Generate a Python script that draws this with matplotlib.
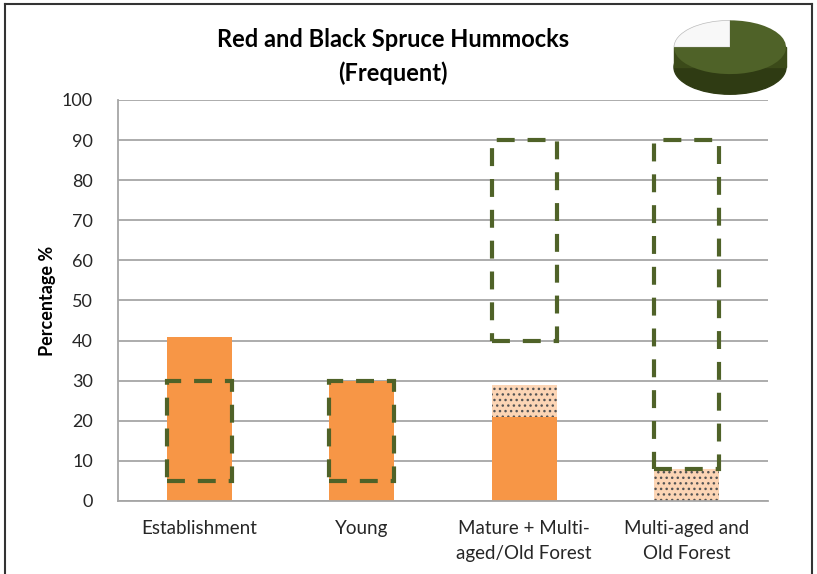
import numpy as np
import matplotlib.pyplot as plt
from matplotlib.patches import Wedge, Rectangle, Ellipse
from matplotlib.lines import Line2D

plt.rcParams['font.family'] = ['Lato', 'DejaVu Sans']
plt.rcParams['hatch.linewidth'] = 1.0

categories = ['Establishment', 'Young', 'Mature + Multi-\naged/Old Forest', 'Multi-aged and\nOld Forest']
solid = [41, 30, 21, 0]          # orange part
dotted = [0, 0, 8, 8]            # dotted part stacked on top
range_low = [5, 5, 40, 8]        # dashed boxes
range_high = [30, 30, 90, 90]
pie_vals = [75, 25]              # green, white

orange = '#F79646'
peach = '#FCD5B5'
green = '#4F6228'

fig = plt.figure(figsize=(8.17, 5.74), dpi=100)
ax = fig.add_axes([0.1444, 0.1272, 0.7956, 0.6986])

x = np.arange(len(categories))
w = 0.4
ax.bar(x, solid, w, color=orange, zorder=2)
ax.bar(x, dotted, w, bottom=solid, color=peach, hatch='...', edgecolor='#555555', lw=0, zorder=2)
for xi, lo, hi in zip(x, range_low, range_high):
    ax.add_patch(Rectangle((xi - w / 2, lo), w, hi - lo, fill=False, ec=green, lw=3,
                           ls=(0, (4.3, 3.1)), zorder=3))

ax.set_xlim(-0.5, len(categories) - 0.5)
ax.set_ylim(0, 100)
ax.set_yticks(range(0, 101, 10))
ax.yaxis.grid(True, color='#A6A6A6', lw=1.3)
ax.set_axisbelow(True)
for s in ['top', 'right']:
    ax.spines[s].set_visible(False)
for s in ['left', 'bottom']:
    ax.spines[s].set_color('#A6A6A6')
    ax.spines[s].set_linewidth(1.3)
ax.tick_params(axis='y', length=0, labelsize=13, colors='#262626', pad=18)
ax.tick_params(axis='x', length=0, labelsize=13.5, colors='#262626', pad=14)
ax.set_xticks(x)
ax.set_xticklabels(categories, linespacing=1.55)
ax.set_ylabel('Percentage %', fontsize=13, fontweight='bold', labelpad=4)

fig.text(0.481, 0.902, 'Red and Black Spruce Hummocks\n(Frequent)', ha='center', va='center',
         fontsize=17, fontweight='bold', linespacing=1.55)

# small 3D-looking pie in the corner (y squashed so circles look like tilted ellipses)
pax = fig.add_axes([665 / 817, 1 - 100 / 574, 130 / 817, 80 / 574])
pax.set_xlim(-65, 65)
pax.set_ylim(-110, 56.7)   # 0.48 px per unit in y -> r=56 gives ry~27px... squashed ellipse
pax.axis('off')
r = 56
depth = 42
pax.add_patch(Ellipse((0, -depth), 2 * r, 2 * r, color='#2F3B13'))
pax.add_patch(Rectangle((-r, -depth), 2 * r, depth, color='#3B4A19'))
frac = pie_vals[1] / sum(pie_vals) * 360
pax.add_patch(Wedge((0, 0), r, 90, 90 + frac, fc='#F8F8F8', ec='#BBBBBB', lw=0.5))
pax.add_patch(Wedge((0, 0), r, 90 + frac, 90 + 360, fc=green, ec='none'))

# frame around the chart (no bottom edge)
for xs, ys in [([0.006, 0.006], [0, 0.993]), ([0.006, 0.994], [0.993, 0.993]), ([0.994, 0.994], [0.993, 0])]:
    fig.add_artist(Line2D(xs, ys, color='#333333', lw=1.5, transform=fig.transFigure))

fig.savefig('out.png', dpi=100)
